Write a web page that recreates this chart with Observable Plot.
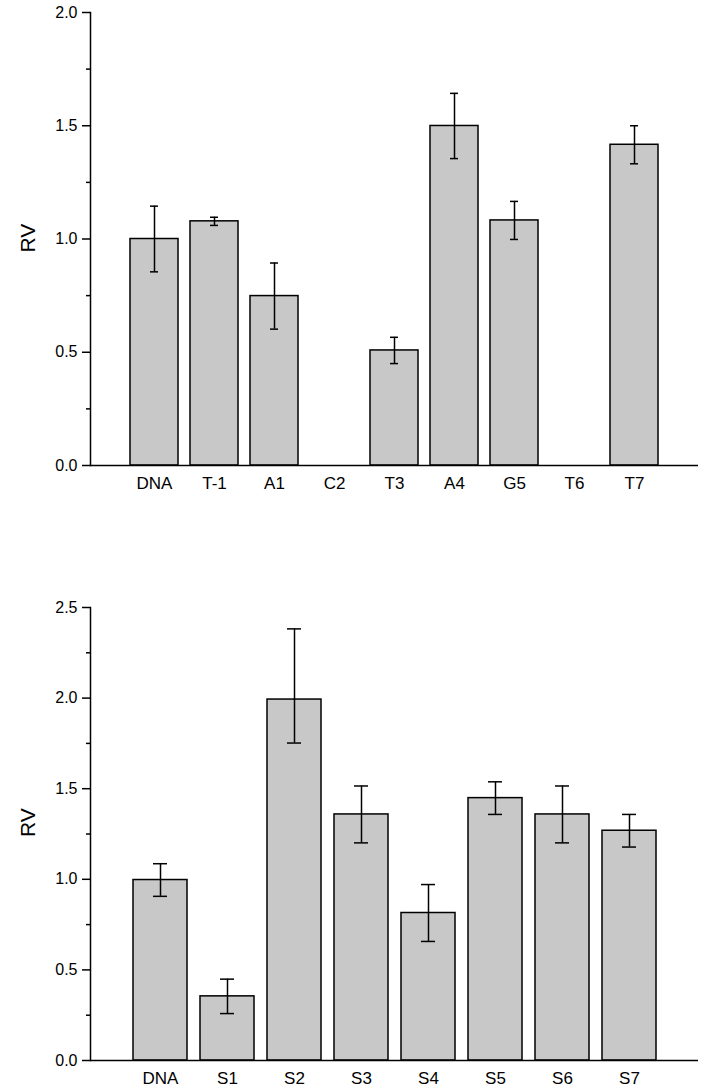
<!DOCTYPE html>
<html>
<head>
<meta charset="utf-8">
<script src="https://cdn.jsdelivr.net/npm/d3@7"></script>
<script src="https://cdn.jsdelivr.net/npm/@observablehq/plot@0.6"></script>
<style>
  html, body { margin: 0; padding: 0; background: #fff; }
  #wrap { position: relative; width: 704px; height: 1087px; font-family: "Liberation Sans", Arial, sans-serif; }
  .letter { position: absolute; font-size: 25px; color: #000; line-height: 1; }
  .panel { position: absolute; left: 0; }
</style>
</head>
<body>
<div id="wrap">
  <div class="letter" style="left:4px; top:3px;">A</div>
  <div class="letter" style="left:4px; top:600px;">B</div>
  <div id="pA" class="panel" style="top:0px;"></div>
  <div id="pB" class="panel" style="top:500px;"></div>
</div>
<script>
// Panel A data
const catsA = ["DNA", "T-1", "A1", "C2", "T3", "A4", "G5", "T6", "T7"];
const rvA   = [1.0, 1.078, 0.748, null, 0.508, 1.499, 1.082, null, 1.416];
const errLoA = [0.145, 0.018, 0.146, null, 0.058, 0.144, 0.084, null, 0.084];
const errHiA = [0.145, 0.018, 0.146, null, 0.058, 0.144, 0.084, null, 0.084];
const majorA = [0, 0.5, 1.0, 1.5, 2.0];
const minorA = [0.25, 0.75, 1.25, 1.75];

// Panel B data
const catsB = ["DNA", "S1", "S2", "S3", "S4", "S5", "S6", "S7"];
const rvB   = [0.996, 0.354, 1.992, 1.358, 0.814, 1.448, 1.358, 1.268];
const errLoB = [0.09, 0.095, 0.24, 0.157, 0.157, 0.09, 0.157, 0.09];
const errHiB = [0.09, 0.095, 0.39, 0.157, 0.157, 0.09, 0.157, 0.09];
const majorB = [0, 0.5, 1.0, 1.5, 2.0, 2.5];
const minorB = [0.25, 0.75, 1.25, 1.75, 2.25];

function panel({cats, rv, errLo, errHi, yMax, majors, minors, height, marginTop, marginBottom, rvY}) {
  const data = cats.map((c, i) => ({cat: c, v: rv[i], lo: rv[i] - errLo[i], hi: rv[i] + errHi[i]}))
    .filter(d => d.v != null);
  return Plot.plot({
    width: 704,
    height,
    marginLeft: 90,
    marginRight: 6,
    marginTop,
    marginBottom,
    style: {fontFamily: "'Liberation Sans', Arial, sans-serif", fontSize: "16px", color: "#000", background: "#fff", overflow: "visible"},
    x: {domain: cats, paddingInner: 0.2, paddingOuter: 0.6, label: null},
    y: {domain: [0, yMax], label: null},
    marks: [
      Plot.barY(data, {x: "cat", y: "v", fill: "#c8c8c8", stroke: "#000", strokeWidth: 1.5}),
      Plot.ruleX(data, {x: "cat", y1: "lo", y2: "hi", stroke: "#000", strokeWidth: 1.5}),
      Plot.tickY(data, {x: "cat", y: "hi", inset: 20, stroke: "#000", strokeWidth: 1.5}),
      Plot.tickY(data, {x: "cat", y: "lo", inset: 20, stroke: "#000", strokeWidth: 1.5}),
      Plot.ruleY([0], {stroke: "#000", strokeWidth: 1.5}),
      Plot.frame({anchor: "left", stroke: "#000", strokeWidth: 1.5}),
      Plot.axisY({ticks: majors, tickSize: 8, tickPadding: 5, tickFormat: d3.format(".1f"), fontSize: 16, label: null, strokeWidth: 1.5}),
      Plot.axisY({ticks: minors, tickSize: 4, tickFormat: () => "", label: null, strokeWidth: 1.5}),
      Plot.axisX({tickSize: 0, tickPadding: 11, fontSize: 17, label: null}),
      Plot.text(["RV"], {text: d => d, y: () => rvY, frameAnchor: "left", dx: -62, rotate: -90, fontSize: 21, fill: "#000"})
    ]
  });
}

document.getElementById("pA").append(panel({
  cats: catsA, rv: rvA, errLo: errLoA, errHi: errHiA, yMax: 2.0, majors: majorA, minors: minorA,
  height: 500, marginTop: 12, marginBottom: 35, rvY: 0.94
}));
document.getElementById("pB").append(panel({
  cats: catsB, rv: rvB, errLo: errLoB, errHi: errHiB, yMax: 2.5, majors: majorB, minors: minorB,
  height: 587, marginTop: 107, marginBottom: 27, rvY: 1.233
}));
</script>
</body>
</html>
